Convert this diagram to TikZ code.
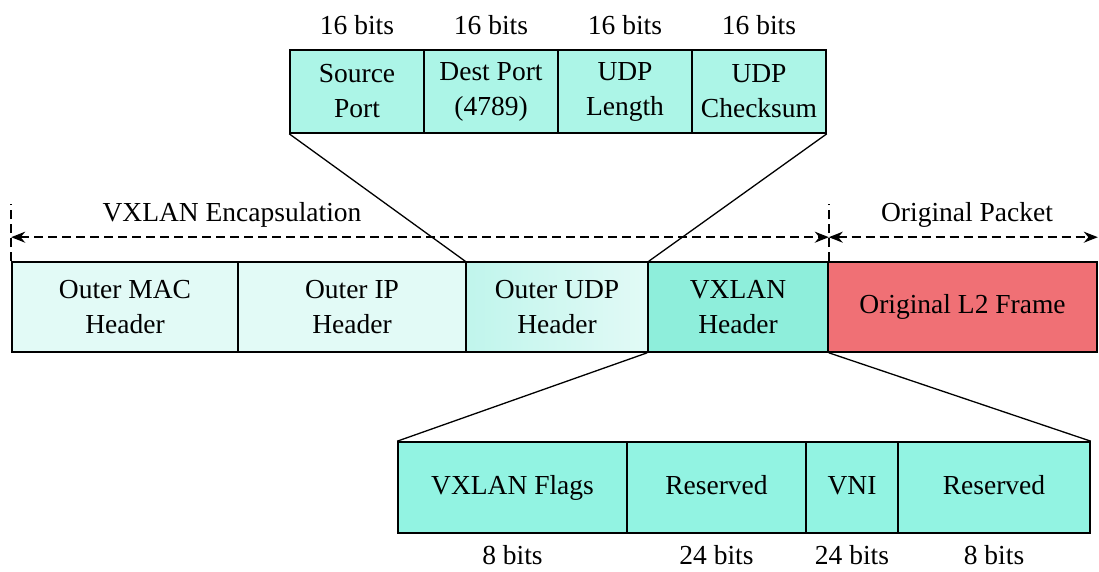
\documentclass[tikz,border=0pt]{standalone}
\usepackage{fontspec}
\setmainfont{Liberation Serif}
\usetikzlibrary{arrows.meta, positioning}

\definecolor{paleaqua}{RGB}{226,250,246}
\definecolor{midaqua}{RGB}{192,245,236}
\definecolor{udpaqua}{RGB}{172,245,231}
\definecolor{vxaqua}{RGB}{142,238,219}
\definecolor{flagaqua}{RGB}{146,243,226}
\definecolor{framered}{RGB}{240,112,117}

\begin{document}
\begin{tikzpicture}[x=1pt, y=-1pt,
    field/.style={draw, line width=1.6pt, inner sep=0pt, align=center,
        font=\fontsize{27.5}{35}\selectfont},
    oneline/.style={text height=19pt, text depth=6pt},
    bitlabel/.style={inner sep=0pt, font=\fontsize{27.5}{32}\selectfont},
    marker/.style={dashed, line width=1.6pt, dash pattern=on 9pt off 5pt},
    span/.style={marker, {Stealth[length=14pt, width=11pt]}-{Stealth[length=14pt, width=11pt]}}]
    \useasboundingbox (0,0) rectangle (1099,572);

    % UDP header fields
    \node[field, fill=udpaqua, minimum width=134pt, minimum height=83pt] (sport) at (357,91.5) {Source\\Port};
    \node[field, fill=udpaqua, minimum width=134pt, minimum height=83pt] (dport) at (491,91.5) {Dest Port\\(4789)};
    \node[field, fill=udpaqua, minimum width=134pt, minimum height=83pt] (ulen) at (625,91.5) {UDP\\Length};
    \node[field, fill=udpaqua, minimum width=134pt, minimum height=83pt] (ucsum) at (759,91.5) {UDP\\Checksum};
    \node[bitlabel, above=14pt of sport] (bsport) {16 bits};
    \node[bitlabel, above=14pt of dport] (bdport) {16 bits};
    \node[bitlabel, above=14pt of ulen] (bulen) {16 bits};
    \node[bitlabel, above=14pt of ucsum] (bucsum) {16 bits};

    % Encapsulated packet
    \node[field, fill=paleaqua, minimum width=226pt, minimum height=90pt] (omac) at (125,307) {Outer MAC\\Header};
    \node[field, fill=paleaqua, minimum width=228pt, minimum height=90pt] (oip) at (352,307) {Outer IP\\Header};
    \node[field, left color=midaqua, right color=paleaqua, minimum width=182pt, minimum height=90pt] (oudp) at (557,307) {Outer UDP\\Header};
    \node[field, fill=vxaqua, minimum width=180pt, minimum height=90pt] (vxh) at (738,307) {VXLAN\\Header};
    \node[field, oneline, fill=framered, minimum width=269pt, minimum height=90pt] (l2) at (962.5,307) {Original L2 Frame};

    % VXLAN header fields
    \node[field, oneline, fill=flagaqua, minimum width=229pt, minimum height=91pt] (flags) at (512.5,487.5) {VXLAN Flags};
    \node[field, oneline, fill=flagaqua, minimum width=179pt, minimum height=91pt] (rsv1) at (716.5,487.5) {Reserved};
    \node[field, oneline, fill=flagaqua, minimum width=92pt, minimum height=91pt] (vni) at (852,487.5) {VNI};
    \node[field, oneline, fill=flagaqua, minimum width=192pt, minimum height=91pt] (rsv2) at (994,487.5) {Reserved};
    \node[bitlabel, below=11pt of flags] (bflags) {8 bits};
    \node[bitlabel, below=11pt of rsv1] (brsv1) {24 bits};
    \node[bitlabel, below=11pt of vni] (bvni) {24 bits};
    \node[bitlabel, below=11pt of rsv2] (brsv2) {8 bits};

    % Zoom lines
    \draw[line width=1.3pt] (sport.south west) -- (oudp.north west);
    \draw[line width=1.3pt] (ucsum.south east) -- (oudp.north east);
    \draw[line width=1.3pt] (vxh.south west) -- (flags.north west);
    \draw[line width=1.3pt] (vxh.south east) -- (rsv2.north east);

    % Extent markers
    \coordinate (encL) at ([yshift=24pt]omac.north west);
    \coordinate (encR) at ([yshift=24pt]vxh.north east);
    \coordinate (pktR) at ([yshift=24pt]l2.north east);
    \draw[marker] (omac.north west) -- ++(0,-57);
    \draw[marker] (vxh.north east) -- ++(0,-57);
    \draw[span] (encL) -- (encR);
    \draw[span] (encR) -- (pktR);
    \node[bitlabel] (enclabel) at (232,215) {VXLAN Encapsulation};
    \node[bitlabel] (pktlabel) at (967,215) {Original Packet};
\end{tikzpicture}
\end{document}
